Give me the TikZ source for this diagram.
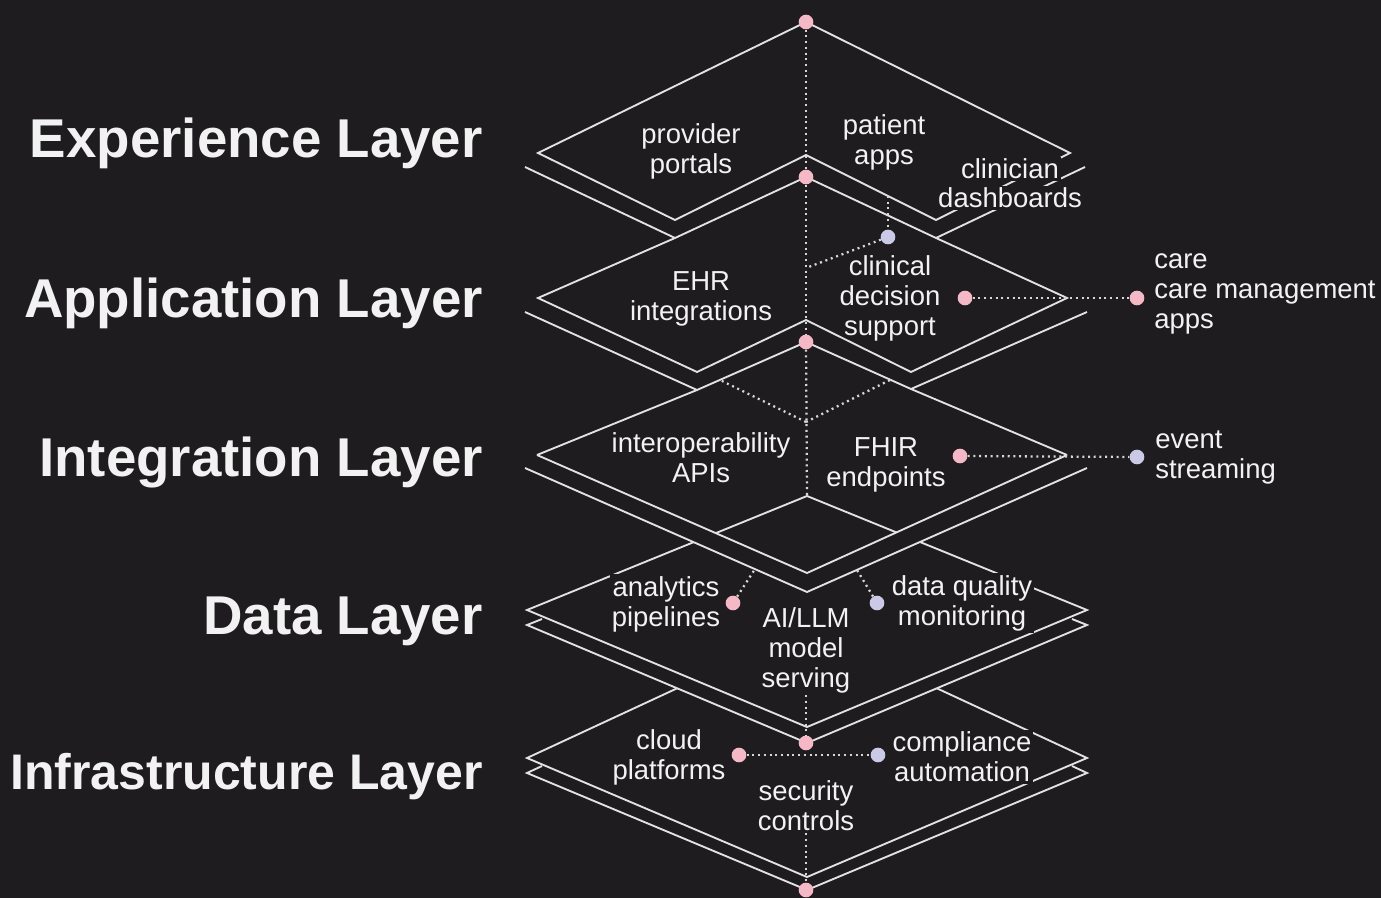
\documentclass[tikz,border=0pt]{standalone}
\usepackage{fontspec}
\setmainfont{Liberation Sans}
\definecolor{bg}{RGB}{30,28,31}
\definecolor{ln}{RGB}{226,226,226}
\definecolor{tx}{RGB}{242,242,242}
\definecolor{pk}{RGB}{244,184,198}
\definecolor{lv}{RGB}{202,202,230}
\definecolor{dl}{RGB}{215,215,215}
\begin{document}
\begin{tikzpicture}[x=0.75pt,y=-0.75pt,
  edge/.style={draw=ln, line width=1.4pt, line join=miter, line cap=butt},
  dotline/.style={draw=dl, line width=1.7pt, dash pattern=on 1.5pt off 2.8pt},
  pdot/.style={circle, fill=pk, inner sep=0pt, minimum size=11pt},
  vdot/.style={circle, fill=lv, inner sep=0pt, minimum size=11pt},
  lbl/.style={text=tx, font=\fontsize{20.6pt}{22.5pt}\selectfont, align=center, inner sep=1.5pt},
  hid/.style={fill=bg},
  ttl/.style={text=tx, font=\fontsize{41pt}{45pt}\selectfont\bfseries, anchor=base east, inner sep=0pt},
]
\fill[bg] (0,0) rectangle (1381,898);
\useasboundingbox (0,0) rectangle (1381,898);

% ---------- coordinates ----------
% Experience
\coordinate (ET) at (806,22);
\coordinate (EL) at (538,153);
\coordinate (ER) at (1070,153);
\coordinate (EV) at (675,220);
\coordinate (EN) at (806,155);
\coordinate (EVr) at (936,220);
\coordinate (EL2) at (525,167);
\coordinate (EV2) at (675,238);
\coordinate (EN2) at (806,177);
\coordinate (EVr2) at (936,238);
\coordinate (ER2) at (1085,167);
% Application
\coordinate (AL) at (538,298);
\coordinate (AR) at (1067,298);
\coordinate (AV) at (697,372);
\coordinate (AN) at (806,320);
\coordinate (AVr) at (911,372);
\coordinate (AL2) at (525,312);
\coordinate (AV2) at (697,390);
\coordinate (AN2) at (806,342);
\coordinate (AVr2) at (911,389);
\coordinate (AR2) at (1087,312);
% Integration
\coordinate (IL) at (537,455);
\coordinate (IR) at (1067,455);
\coordinate (IB) at (807,573);
\coordinate (IL2) at (525,468);
\coordinate (IR2) at (1087,468);
\coordinate (IB2) at (807,592);
% Data
\coordinate (DT) at (807,496);
\coordinate (DL) at (527,610);
\coordinate (DR) at (1087,610);
\coordinate (DB) at (807,727);
\coordinate (DL2) at (527,625);
\coordinate (DR2) at (1087,625);
\coordinate (DB2) at (807,743);
\coordinate (DLs) at (542,619);
\coordinate (DRs) at (1072,619);
% Infrastructure
\coordinate (FT) at (807,628);
\coordinate (FL) at (527,758);
\coordinate (FR) at (1087,758);
\coordinate (FB) at (807,877);
\coordinate (FL2) at (527,773);
\coordinate (FR2) at (1087,773);
\coordinate (FB2) at (807,890);
\coordinate (FLs) at (542,766);
\coordinate (FRs) at (1072,766);

% ---------- layers (bottom to top) ----------
% Infrastructure
\draw[edge] (FL) -- (FT) -- (FR) -- (FB) -- cycle;
\draw[edge] (FLs) -- (FL2) -- (FB2) -- (FR2) -- (FRs);
% Data (opaque face)
\fill[bg] (DT) -- (DL) -- (DL2) -- (DB2) -- (DR2) -- (DR) -- cycle;
\draw[edge] (DT) -- (DL) -- (DB) -- (DR) -- cycle;
\draw[edge] (DLs) -- (DL2) -- (DB2) -- (DR2) -- (DRs);
% Integration (opaque side band)
\fill[bg] (IL) -- (IB) -- (IR) -- (IR2) -- (IB2) -- (IL2) -- cycle;
\draw[edge] (IL) -- (IB) -- (IR);
\draw[edge] (IL2) -- (IB2) -- (IR2);
\draw[edge] (IL) -- (AV2);
\draw[edge] (AVr2) -- (IR);
% Application
\draw[edge] (EN2) -- (EV2) -- (AL) -- (AV) -- (AN) -- (AVr) -- (AR) -- (EVr2) -- cycle;
\draw[edge] (AL2) -- (AV2) -- (AN2) -- (AVr2) -- (AR2);
% Experience
\draw[edge] (ET) -- (EL) -- (EV) -- (EN) -- (EVr) -- (ER) -- cycle;
\draw[edge] (EL2) -- (EV2);
\draw[edge] (EVr2) -- (ER2);

% ---------- dots ----------
\node[pdot] (dE) at (806,22) {};
\node[pdot] (dA) at (806,177) {};
\node[pdot] (dI) at (806,342) {};
\node[vdot] (dCl) at (888,237) {};
\node[pdot] (dCDS) at (965,298) {};
\node[pdot] (dCare) at (1137,298) {};
\node[pdot] (dFHIR) at (960,456) {};
\node[vdot] (dEvent) at (1137,457) {};
\node[pdot] (dAn) at (733,603) {};
\node[vdot] (dDQ) at (877,603) {};
\node[pdot] (dD) at (806,743) {};
\node[pdot] (dCloud) at (739,755) {};
\node[vdot] (dComp) at (878,755) {};
\node[pdot] (dBot) at (806,890) {};

% ---------- labels ----------
\node[lbl] (pp) at (691,151) {provider\\portals};
\node[lbl] (pa) at (884,142) {patient\\apps};
\node[lbl,hid] (cl1) at (1010,169) {clinician};
\node[lbl,hid] (cl2) at (1010,198) {dashboards};
\node[lbl] (ehr) at (701,299) {EHR\\integrations};
\node[lbl] (cds) at (890,298) {clinical\\decision\\support};
\node[lbl, align=left, anchor=west] (care) at (1152,294) {care\\care management\\apps};
\node[lbl] (api) at (701,458) {interoperability\\APIs};
\node[lbl] (fhir) at (886,465) {FHIR\\endpoints};
\node[lbl, align=left, anchor=west] (ev) at (1153,457) {event\\streaming};
\node[lbl,hid] (an) at (666,604) {analytics\\pipelines};
\node[lbl] (ai) at (806,650) {AI/LLM\\model\\serving};
\node[lbl,hid] (dq) at (962,603) {data quality\\monitoring};
\node[lbl] (cp) at (669,757) {cloud\\platforms};
\node[lbl,hid] (sec) at (806,806) {security\\controls};
\node[lbl,hid] (comp) at (962,757) {compliance\\automation};

% ---------- connector coordinates ----------
\coordinate (cE) at (888,196);
\coordinate (cA) at (806,268);
\coordinate (cI) at (806,422);
\coordinate (cIl) at (720,380);
\coordinate (cIr) at (890,380);
\coordinate (cAn) at (755,569);
\coordinate (cDQ) at (857,570);

% ---------- dotted connectors ----------
\draw[dotline] (dE) -- (dA);
\draw[dotline] (dA) -- (dI);
\draw[dotline] (dI) -- (DT);
\draw[dotline] (cE) -- (dCl);
\draw[dotline] (dCl) -- (cA);
\draw[dotline] (dCDS) -- (dCare);
\draw[dotline] (cI) -- (cIl);
\draw[dotline] (cI) -- (cIr);
\draw[dotline] (dFHIR) -- (dEvent);
\draw[dotline] (dAn) -- (cAn);
\draw[dotline] (dDQ) -- (cDQ);
\draw[dotline] (ai.south) -- (dD);
\draw[dotline] (dCloud) -- (dComp);
\draw[dotline] (sec.south) -- (dBot);

% ---------- titles ----------
\node[ttl] (t1) at (483,158) {Experience Layer};
\node[ttl] (t2) at (483,318) {Application Layer};
\node[ttl] (t3) at (483,476) {Integration Layer};
\node[ttl] (t4) at (483,634) {Data Layer};
\node[ttl, font=\fontsize{37.5pt}{41pt}\selectfont\bfseries] (t5) at (483,789) {Infrastructure Layer};
\end{tikzpicture}
\end{document}
